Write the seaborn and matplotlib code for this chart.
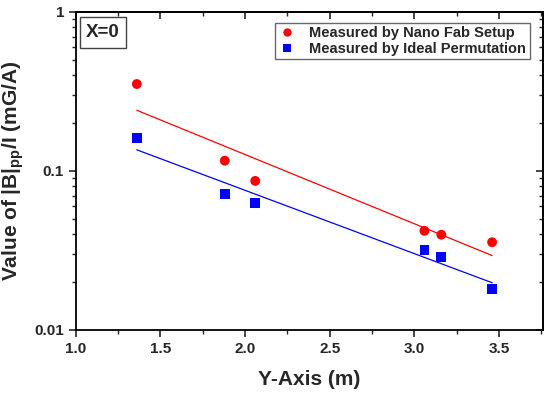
import matplotlib
matplotlib.use("Agg")
import matplotlib.pyplot as plt
from matplotlib.ticker import MultipleLocator, LogLocator, NullFormatter, FixedFormatter, FixedLocator
import numpy as np
import pandas as pd
import seaborn as sns

# values
y_axis_m = [1.36, 1.88, 2.06, 3.06, 3.16, 3.46]
nano_fab = [0.352, 0.116, 0.0865, 0.042, 0.0397, 0.0356]
ideal_perm = [0.161, 0.0717, 0.063, 0.0318, 0.0288, 0.0181]
series_names = ["Measured by Nano Fab Setup", "Measured by Ideal Permutation"]
y_ticks = [0.01, 0.1, 1]
y_tick_labels = ["0.01", "0.1", "1"]

df = pd.DataFrame({
    "x": y_axis_m * 2,
    "value": nano_fab + ideal_perm,
    "series": [series_names[0]] * len(y_axis_m) + [series_names[1]] * len(y_axis_m),
})

sns.set_style("ticks")
plt.rcParams["font.family"] = ["Liberation Sans", "DejaVu Sans"]
plt.rcParams["font.weight"] = "bold"
plt.rcParams["mathtext.fontset"] = "custom"
plt.rcParams["mathtext.bf"] = "Liberation Sans:bold"
plt.rcParams["mathtext.rm"] = "Liberation Sans"

fig = plt.figure(figsize=(5.5, 3.97), dpi=100)
ax = fig.add_axes([0.138, 0.169, 0.849, 0.801])

colors = {series_names[0]: "#ff0000", series_names[1]: "#0000ff"}
markers = {series_names[0]: "o", series_names[1]: "s"}

# log-linear fit lines, from the first to the last x value
for name in series_names:
    sub = df[df["series"] == name]
    k, b = np.polyfit(sub["x"], np.log10(sub["value"]), 1)
    xs = np.array([sub["x"].min(), sub["x"].max()])
    fit = pd.DataFrame({"x": xs, "value": 10 ** (k * xs + b)})
    sns.lineplot(data=fit, x="x", y="value", color=colors[name], lw=0.9, ax=ax, legend=False)

sns.scatterplot(data=df, x="x", y="value", hue="series", style="series",
                palette=colors, markers=markers, s=50, linewidth=0, ax=ax)

ax.set_yscale("log")
ax.set_xlim(1.0, 3.76)
ax.set_ylim(0.01, 1)
ax.xaxis.set_major_locator(MultipleLocator(0.5))
ax.xaxis.set_minor_locator(MultipleLocator(0.25))
ax.yaxis.set_major_locator(FixedLocator(y_ticks))
ax.yaxis.set_major_formatter(FixedFormatter(y_tick_labels))
ax.yaxis.set_minor_locator(LogLocator(base=10, subs=np.arange(2, 10)))
ax.yaxis.set_minor_formatter(NullFormatter())
ax.tick_params(which="major", direction="out", length=5, width=1.2, labelsize=11)
ax.tick_params(which="minor", direction="out", length=3, width=1.0)
for lab in ax.get_xticklabels() + ax.get_yticklabels():
    lab.set_fontweight("bold")

# top and right ticks point inward, without labels
top = ax.secondary_xaxis("top")
top.xaxis.set_major_locator(MultipleLocator(0.5))
top.xaxis.set_minor_locator(MultipleLocator(0.25))
top.tick_params(which="major", direction="in", length=5, width=1.2, labeltop=False)
top.tick_params(which="minor", direction="in", length=3, width=1.0)
right = ax.secondary_yaxis("right")
right.yaxis.set_major_locator(FixedLocator(y_ticks))
right.yaxis.set_minor_locator(LogLocator(base=10, subs=np.arange(2, 10)))
right.yaxis.set_minor_formatter(NullFormatter())
right.tick_params(which="major", direction="in", length=5, width=1.2, labelright=False)
right.tick_params(which="minor", direction="in", length=3, width=1.0)

for sp in list(ax.spines.values()) + [top.spines["top"], right.spines["right"]]:
    sp.set_linewidth(1.3)
    sp.set_color("black")

ax.set_xlabel("Y-Axis (m)", fontsize=15, fontweight="bold", labelpad=10)
ax.set_ylabel(r"Value of |B|$_{\mathbf{pp}}$/I (mG/A)", fontsize=15, fontweight="bold", labelpad=6)

ax.text(0.022, 0.962, "X=0", transform=ax.transAxes, ha="left", va="top",
        fontsize=13.5, fontweight="bold",
        bbox=dict(boxstyle="square,pad=0.35", fc="white", ec="#444444", lw=1))

leg = ax.legend(loc="upper right", bbox_to_anchor=(0.972, 0.966), fontsize=10.5,
                frameon=True, fancybox=False, edgecolor="#444444",
                handlelength=1.2, handletextpad=0.9, borderpad=0.25,
                labelspacing=0.1, markerscale=0.85, borderaxespad=0)
leg.get_frame().set_linewidth(1.0)
for t in leg.get_texts():
    t.set_fontweight("bold")

fig.savefig("out.png", dpi=100)
